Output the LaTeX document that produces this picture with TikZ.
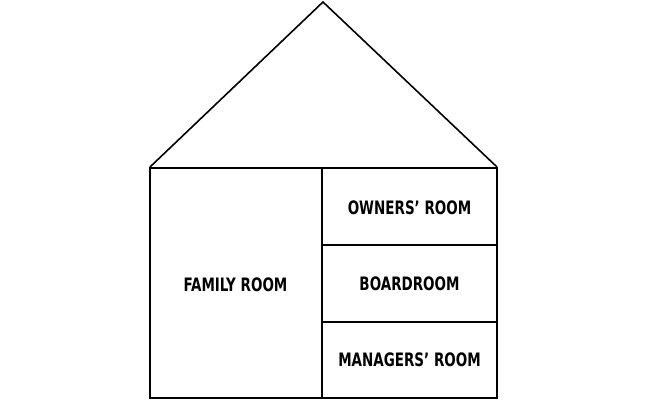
\documentclass[tikz,border=0pt]{standalone}
\usepackage{fontspec}
\setmainfont{DejaVu Sans Condensed}[BoldFont={DejaVu Sans Condensed Bold},BoldFeatures={FakeStretch=0.81}]
\begin{document}
\begin{tikzpicture}[x=1pt,y=-1pt]
			\tikzstyle{every node}+=[inner sep=0pt]
			\tikzstyle{room}=[font=\fontsize{18.5}{19}\selectfont\bfseries]
			\useasboundingbox (0,0) rectangle (645,400);
			\draw [black, line width=1.6pt, line join=miter] (150,167) -- (323,2) -- (497,167);
			\draw [black, line width=2pt] (150,168) rectangle (497,398);
			\draw [black, line width=2pt] (322,168) -- (322,398);
			\draw [black, line width=2pt] (322,245) -- (497,245);
			\draw [black, line width=2pt] (322,322) -- (497,322);
			\node [room] (family) at (235.5,285) {FAMILY ROOM};
			\node [room] (owners) at (409.5,208) {OWNERS’ ROOM};
			\node [room] (board) at (409.5,284) {BOARDROOM};
			\node [room] (managers) at (409.5,360) {MANAGERS’ ROOM};
		\end{tikzpicture}
\end{document}
